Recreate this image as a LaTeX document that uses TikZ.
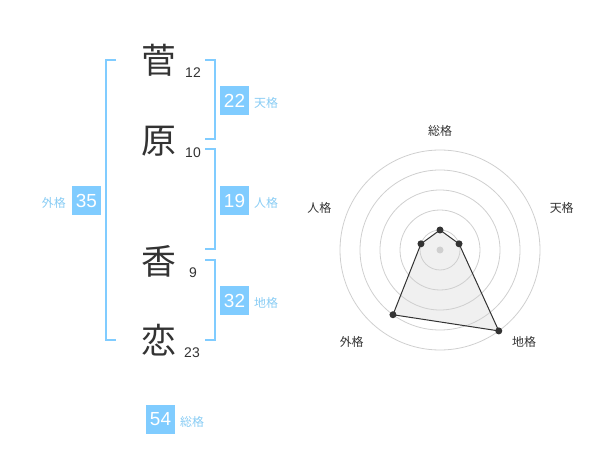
\documentclass[tikz,border=0pt]{standalone}
\usepackage{fontspec}
\setmainfont{Liberation Sans}
\newfontfamily\cjk{Noto Sans CJK JP}
\definecolor{sky}{HTML}{80CCFF}
\definecolor{skytext}{HTML}{88CCF4}
\definecolor{ink}{HTML}{333333}
\definecolor{ring}{HTML}{CFCFCF}
\begin{document}
\begin{tikzpicture}[x=1bp,y=-1bp,
  kanji/.style={font=\cjk\fontsize{35}{35}\selectfont, text=ink, inner sep=0pt},
  stroke/.style={font=\fontsize{14}{14}\selectfont, text=ink, inner sep=0pt},
  numbox/.style={fill=sky, text=white, font=\fontsize{19}{19}\selectfont, minimum width=29bp, minimum height=29bp, inner sep=0pt},
  kaku/.style={font=\cjk\fontsize{12}{12}\selectfont, text=skytext, inner sep=0pt},
  bracket/.style={draw=sky, line width=2bp},
  axislabel/.style={font=\cjk\fontsize{12}{12}\selectfont, text=ink, inner sep=0pt},
  dot/.style={circle, fill=ink, inner sep=0pt, minimum size=7bp}]
\path[use as bounding box] (0,0) rectangle (600,470);
% characters
\node[kanji] (k1) at (159,60) {菅};
\node[kanji] (k2) at (159,141) {原};
\node[kanji] (k3) at (159,261) {香};
\node[kanji] (k4) at (159,340) {恋};
\node[stroke] (s1) at (193,73) {12};
\node[stroke] (s2) at (193,153) {10};
\node[stroke] (s3) at (193,273) {9};
\node[stroke] (s4) at (192,352.5) {23};
% brackets
\draw[bracket] (116,60) -- (105.5,60) -- (105.5,339.5) -- (116,339.5);
\draw[bracket] (205,60) -- (214.5,60) -- (214.5,139.5) -- (205,139.5);
\draw[bracket] (205,149.5) -- (214.5,149.5) -- (214.5,249.5) -- (205,249.5);
\draw[bracket] (205,260) -- (214.5,260) -- (214.5,339.5) -- (205,339.5);
% boxes
\node[numbox] (ten) at (234.5,100.5) {22};
\node[kaku, anchor=west] (tenl) at (254,103) {天格};
\node[numbox] (jin) at (234.5,200.5) {19};
\node[kaku, anchor=west] (jinl) at (254,203) {人格};
\node[numbox] (chi) at (234.5,300.5) {32};
\node[kaku, anchor=west] (chil) at (254,303) {地格};
\node[numbox] (gai) at (86.5,200.5) {35};
\node[kaku, anchor=east] (gail) at (66,203) {外格};
\node[numbox] (sou) at (160.5,419.5) {54};
\node[kaku, anchor=west] (soul) at (180,422) {総格};
% radar
\begin{scope}[shift={(440,250)}]
  \coordinate (O) at (0,0);
  \coordinate (pS) at (-90:20);
  \coordinate (pT) at (-18:20);
  \coordinate (pC) at (54:100);
  \coordinate (pG) at (126:80);
  \coordinate (pJ) at (198:20);
  \fill[gray!12] (pS) -- (pT) -- (pC) -- (pG) -- (pJ) -- cycle;
  \foreach \r in {20,40,60,80,100} \draw[ring, line width=0.8bp] (O) circle[radius=\r];
  \fill[ring] (O) circle[radius=3.5];
  \draw[ink, line width=1bp] (pS) -- (pT) -- (pC) -- (pG) -- (pJ) -- cycle;
  \foreach \p in {pS,pT,pC,pG,pJ} \node[dot] at (\p) {};
  \node[axislabel] (lS) at (0,-119) {総格};
  \node[axislabel] (lT) at (121.7,-41.7) {天格};
  \node[axislabel] (lC) at (84,91.7) {地格};
  \node[axislabel] (lG) at (-88.3,91.7) {外格};
  \node[axislabel] (lJ) at (-120.7,-41.7) {人格};
\end{scope}
\end{tikzpicture}
\end{document}
